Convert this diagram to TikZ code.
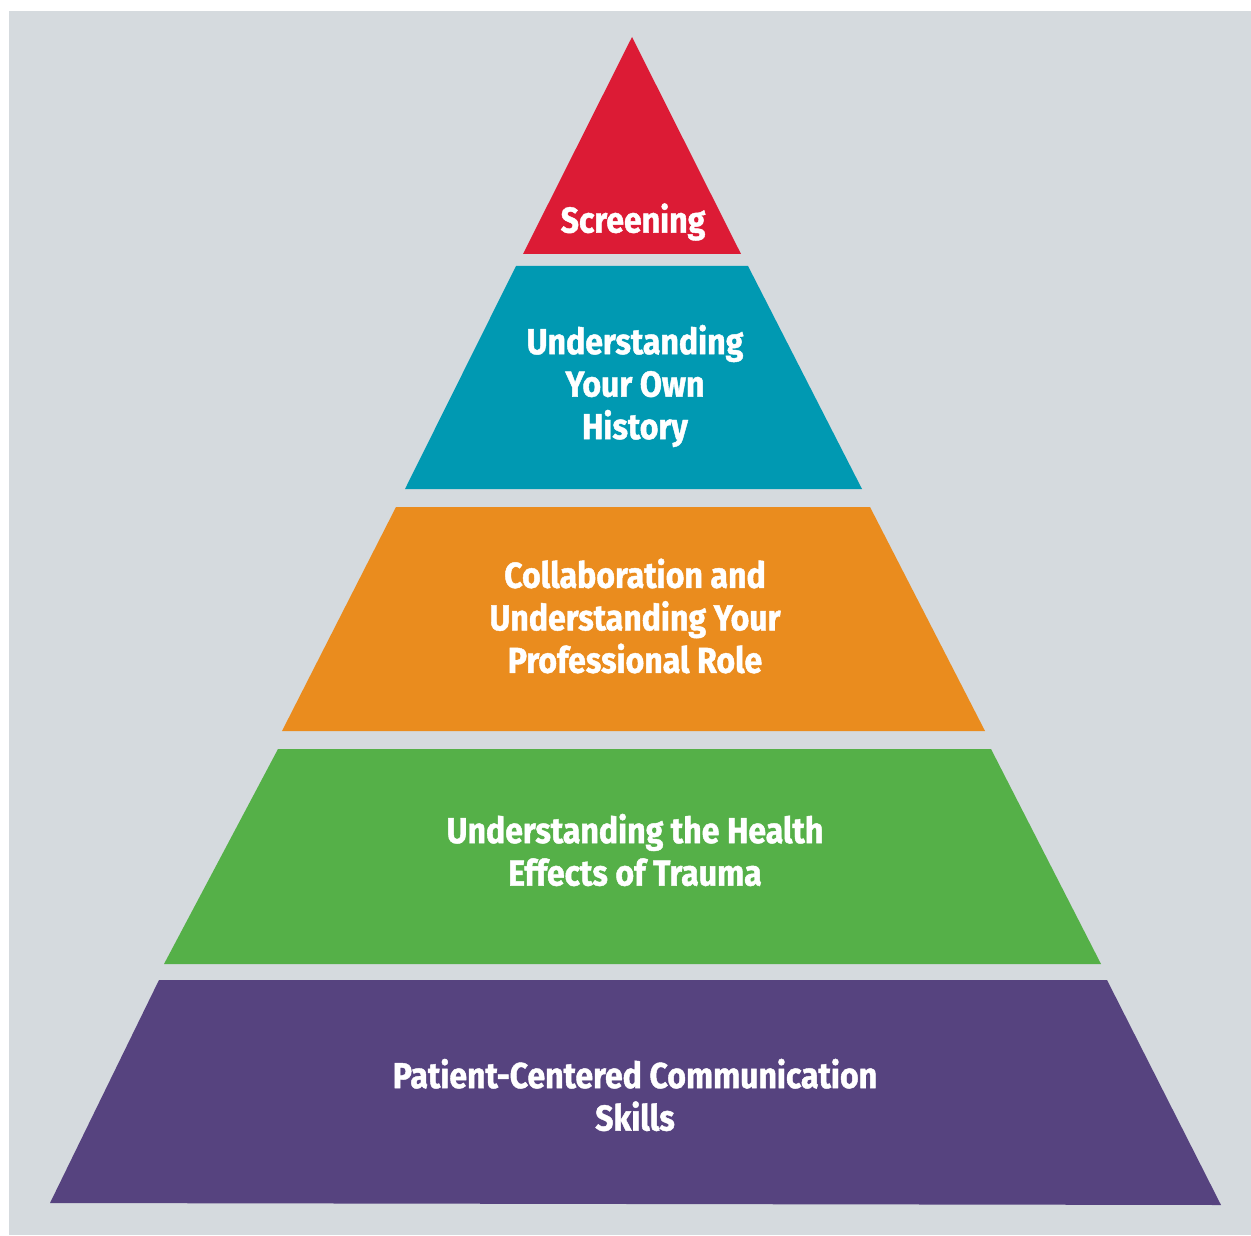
\documentclass[tikz,border=0pt]{standalone}
\usepackage{fontspec}
\setmainfont{Fira Sans}[FakeStretch=0.89, BoldFeatures={FakeBold=1.2}]
\usetikzlibrary{positioning}

\definecolor{bggray}{RGB}{213,218,222}
\definecolor{tipred}{RGB}{220,27,53}
\definecolor{histteal}{RGB}{0,153,178}
\definecolor{roleorange}{RGB}{234,140,30}
\definecolor{healthgreen}{RGB}{85,176,72}
\definecolor{basepurple}{RGB}{86,67,127}

\begin{document}
\begin{tikzpicture}
	\begin{scope}[x=0.5pt, y=-0.5pt]
		\tikzstyle{every node}=[align=center, inner sep=0pt, text=white,
			font=\bfseries\fontsize{18}{21.25}\selectfont]
		\useasboundingbox (0, 0) rectangle (1251, 1235);
		\fill [white] (0, 0) rectangle (1251, 1235);
		\fill [bggray] (9, 11) rectangle (1251, 1235);

		% layers, top to bottom
		\fill [tipred]      (632, 37) -- (741, 254) -- (523, 254) -- cycle;
		\fill [histteal]    (516, 266) -- (748, 266) -- (862, 489) -- (405, 489) -- cycle;
		\fill [roleorange]  (396, 507) -- (870, 507) -- (985, 731) -- (282, 731) -- cycle;
		\fill [healthgreen] (278, 749) -- (991, 749) -- (1101, 964) -- (164, 964) -- cycle;
		\fill [basepurple]  (159, 980) -- (1107, 980) -- (1221, 1205) -- (50, 1203) -- cycle;

		\node (screen)  at (633, 222)  {Screening};
		\node (history) at (635, 386)  {Understanding\\Your Own\\History};
		\node (role)    at (635, 616)  {Collaboration and\\Understanding Your\\Professional Role};
		\node (health)  at (635, 850)  {Understanding the Health\\Effects of Trauma};
		\node (skills)  at (635, 1095) {Patient-Centered Communication\\Skills};
	\end{scope}
\end{tikzpicture}
\end{document}
